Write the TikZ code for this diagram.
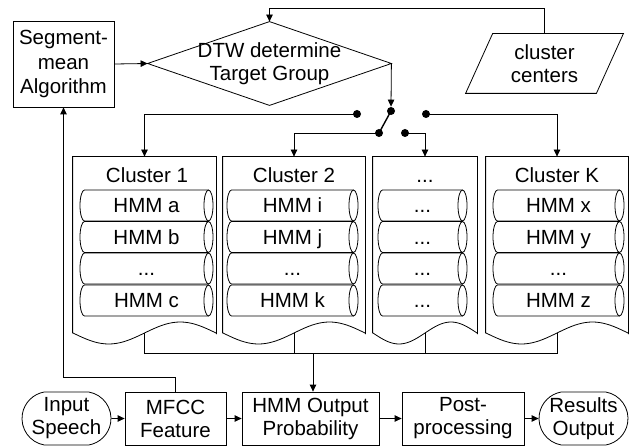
\documentclass[tikz,border=0pt]{standalone}
\usepackage{fontspec}
\setmainfont{Liberation Sans}
\usetikzlibrary{arrows.meta,shapes.misc}
\newcommand\hmmrow[5]{%
  \draw (#3-4.5,#4-15.5) -- (#2+4.5,#4-15.5)
        arc[start angle=270,end angle=90,x radius=4.5,y radius=15.5]
        -- (#3-4.5,#4+15.5);
  \draw (#3-4.5,#4) ellipse[x radius=4.5,y radius=15.5];
  \node[rowtext] (#1) at ({(#2+#3)/2},#4) {#5};}
\begin{document}
\begin{tikzpicture}[x=1pt,y=-1pt,line width=0.8pt,
  font=\fontsize{20.5}{23}\selectfont,
  box/.style={draw,rectangle,align=center,inner sep=0pt},
  term/.style={draw,rounded rectangle,rounded rectangle arc length=160,align=center,inner sep=0pt,minimum width=89pt,minimum height=53pt},
  arr/.style={-{Triangle[length=7pt,width=6.5pt]}},
  dotn/.style={circle,fill,inner sep=0pt,minimum size=8pt},
  rowtext/.style={inner sep=0pt,text height=14.7pt,text depth=0pt},
  ttl/.style={inner sep=0pt,text height=14.7pt,text depth=0pt}]
\useasboundingbox (0,0) rectangle (629,446);

% top part
\node[box,minimum width=101pt,minimum height=86pt,font=\fontsize{20.5}{24.5}\selectfont] (seg) at (63.5,64) {Segment-\\mean\\Algorithm};
\node[inner sep=0pt,minimum width=243pt,minimum height=83pt,align=center] (dtw) at (269.5,63.5) {DTW determine\\Target Group};
\draw (dtw.west) -- (dtw.north) -- (dtw.east) -- (dtw.south) -- cycle;
\node[inner sep=0pt,minimum width=130pt,minimum height=59pt,align=center] (cc) at (544.5,63.5) {cluster\\centers};
\draw ([xshift=13.5pt]cc.north west) -- ([xshift=13.5pt]cc.north east)
      -- ([xshift=-13.5pt]cc.south east) -- ([xshift=-13.5pt]cc.south west) -- cycle;

\draw[arr] (seg.east) -- (dtw.west);
\draw[arr] (cc.north) -- ++(0,-25) -| (dtw.north);

% switch
\node[dotn] (p0) at (391,111) {};
\node[dotn] (dl) at (357,114) {};
\node[dotn] (dr) at (426,114) {};
\node[dotn] (dll) at (379,133) {};
\node[dotn] (dlr) at (405,133) {};
\draw[arr] (dtw.east) -- (p0.north);
\draw[line width=1.4pt] (dll.center) -- (p0.center);

% clusters
\foreach \i/\l/\r in {1/73/216, 2/223/365, 3/373/477, 4/486/628} {
  \node[inner sep=0pt,minimum width={(\r-\l)*1pt},minimum height=176pt] (c\i) at ({(\l+\r)/2},245) {};
  \draw (c\i.south west) -- (c\i.north west) -- (c\i.north east) -- (c\i.south east)
     -- plot[domain=1:0,samples=41,variable=\t] ({\l+(\r-\l)*\t},{333+11*sin(360*\t)});
}
\draw[arr] (dl.center) -| (c1.north);
\draw[arr] (dll.center) -| (c2.north);
\draw[arr] (dlr.center) -| (c3.north);
\draw[arr] (dr.center) -| (c4.north);

\node[ttl] (t1) at (147,175) {Cluster 1};
\node[ttl] (t2) at (294,175) {Cluster 2};
\node[ttl] (t3) at (425,175) {...};
\node[ttl] (t4) at (557,175) {Cluster K};

\hmmrow{r11}{80}{213}{205.5}{HMM a}
\hmmrow{r12}{80}{213}{237}{HMM b}
\hmmrow{r13}{80}{213}{268.5}{...}
\hmmrow{r14}{80}{213}{300.5}{HMM c}
\hmmrow{r21}{227}{358}{205.5}{HMM i}
\hmmrow{r22}{227}{358}{237}{HMM j}
\hmmrow{r23}{227}{358}{268.5}{...}
\hmmrow{r24}{227}{358}{300.5}{HMM k}
\hmmrow{r31}{378}{467}{205.5}{...}
\hmmrow{r32}{378}{467}{237}{...}
\hmmrow{r33}{378}{467}{268.5}{...}
\hmmrow{r34}{378}{467}{300.5}{...}
\hmmrow{r41}{493}{624}{205.5}{HMM x}
\hmmrow{r42}{493}{624}{237}{HMM y}
\hmmrow{r43}{493}{624}{268.5}{...}
\hmmrow{r44}{493}{624}{300.5}{HMM z}

% bottom row
\node[term] (in) at (66.5,418.5) {Input\\Speech};
\node[box,minimum width=101pt,minimum height=53pt] (mfcc) at (175.5,418.5) {MFCC\\Feature};
\node[box,minimum width=137pt,minimum height=53pt] (hmm) at (310.5,418.5) {HMM Output\\Probability};
\node[box,minimum width=122pt,minimum height=53pt] (post) at (463,418.5) {Post-\\processing};
\node[term] (res) at (583.5,418.5) {Results\\Output};
\draw[arr] (in) -- (mfcc);
\draw[arr] (mfcc) -- (hmm);
\draw[arr] (hmm) -- (post);
\draw[arr] (post) -- (res);

% bus
\coordinate (bus) at (0,353);
\draw (c1.south) -- (c1.south |- bus) -- (c4.south |- bus) -- (c4.south);
\draw (c2.south) -- (c2.south |- bus);
\draw (c3.south) -- (c3.south |- bus);
\coordinate (j) at (313,353);
\draw[arr] (j) -- (j |- hmm.north);

% feedback
\draw[arr] (mfcc.north) -- ++(0,-14) -| (seg.south);
\end{tikzpicture}
\end{document}
